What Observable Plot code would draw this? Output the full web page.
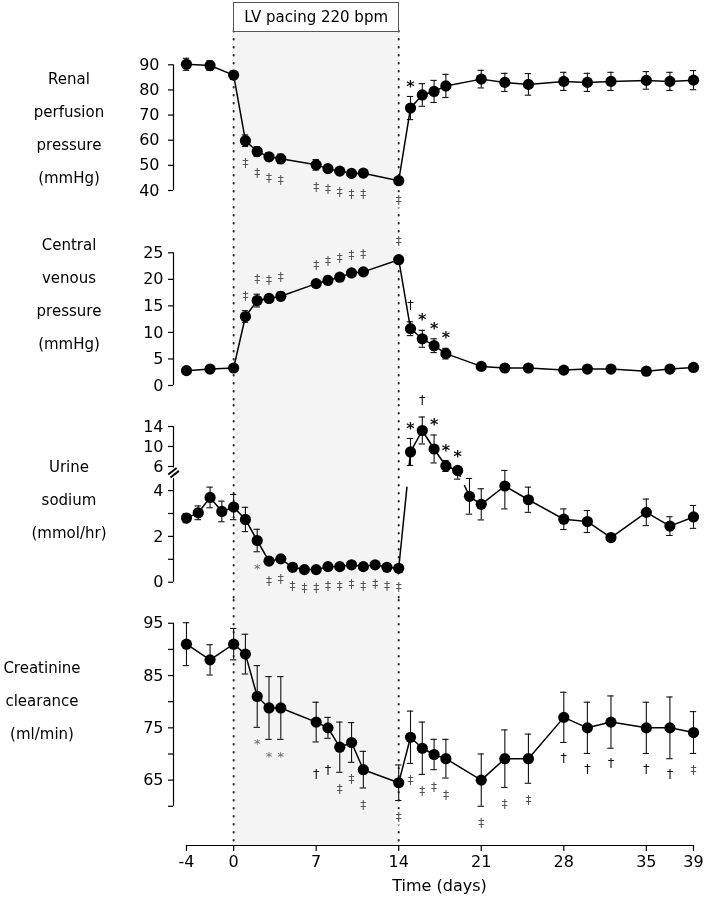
<!DOCTYPE html>
<html>
<head>
<meta charset="utf-8">
<script src="https://cdn.jsdelivr.net/npm/d3@7"></script>
<script src="https://cdn.jsdelivr.net/npm/@observablehq/plot@0.6"></script>
<style>
  html, body { margin: 0; padding: 0; background: #fff; }
  #chart { position: relative; width: 709px; height: 908px; overflow: hidden; font-family: "DejaVu Sans", sans-serif; color: #000; background: #fff; filter: grayscale(100%); }
  #chart svg { position: absolute; left: 0; }
  .ylab { position: absolute; width: 140px; text-align: center; font-size: 15px; line-height: 33px; white-space: nowrap; }
  .box { position: absolute; box-sizing: border-box; border: 1px solid #555; background: #fff; font-size: 15px; display: flex; align-items: center; justify-content: center; white-space: nowrap; }
  .xtitle { position: absolute; font-size: 16px; transform: translateX(-50%); white-space: nowrap; }
</style>
</head>
<body>
<div id="chart"></div>
<script>
// ---------------- data ----------------
const xTicks = [-4, 0, 7, 14, 21, 28, 35, 39];
const pacingDays = [0, 14];
const pacingLabel = "LV pacing 220 bpm";
const xTitle = "Time (days)";

// Renal perfusion pressure (mmHg)
const rppLabel = ["Renal", "perfusion", "pressure", "(mmHg)"];
const rppDays = [-4, -2, 0, 1, 2, 3, 4, 7, 8, 9, 10, 11, 14, 15, 16, 17, 18, 21, 23, 25, 28, 30, 32, 35, 37, 39];
const rppMean = [90.2, 89.7, 85.9, 59.8, 55.5, 53.4, 52.6, 50.2, 48.7, 47.7, 46.8, 46.9, 43.9, 72.8, 78.0, 79.4, 81.6, 84.3, 83.0, 82.2, 83.4, 83.0, 83.4, 83.8, 83.4, 83.9];
const rppErr = [2.4, 1.9, 1.7, 2.3, 1.9, 1.6, 1.9, 2.1, 1.5, 1.4, 1.4, 1.4, 1.0, 4.6, 4.5, 4.4, 4.6, 3.5, 3.6, 4.3, 3.6, 3.6, 3.6, 3.5, 3.6, 3.8];
const rppTicks = [40, 50, 60, 70, 80, 90];
const rppTickLabels = [40, 50, 60, 70, 80, 90];
const rppSig = [[1, "‡", "below"], [2, "‡", "below"], [3, "‡", "below"], [4, "‡", "below"], [7, "‡", "below"], [8, "‡", "below"], [9, "‡", "below"], [10, "‡", "below"], [11, "‡", "below"], [14, "‡", "below"], [15, "*", "above"]];

// Central venous pressure (mmHg)
const cvpLabel = ["Central", "venous", "pressure", "(mmHg)"];
const cvpDays = [-4, -2, 0, 1, 2, 3, 4, 7, 8, 9, 10, 11, 14, 15, 16, 17, 18, 21, 23, 25, 28, 30, 32, 35, 37, 39];
const cvpMean = [2.8, 3.1, 3.3, 13.0, 16.0, 16.4, 16.8, 19.2, 19.8, 20.4, 21.2, 21.4, 23.7, 10.7, 8.8, 7.5, 6.0, 3.6, 3.3, 3.3, 2.9, 3.1, 3.1, 2.7, 3.1, 3.4];
const cvpErr = [0.3, 0.3, 0.4, 1.1, 1.2, 0.6, 0.8, 0.6, 0.8, 0.7, 0.5, 0.5, 0.6, 1.3, 1.6, 1.3, 1.0, 0.4, 0.3, 0.3, 0.3, 0.3, 0.3, 0.3, 0.3, 0.3];
const cvpTicks = [0, 5, 10, 15, 20, 25];
const cvpTickLabels = [0, 5, 10, 15, 20, 25];
const cvpSig = [[1, "‡", "above"], [2, "‡", "above"], [3, "‡", "above"], [4, "‡", "above"], [7, "‡", "above"], [8, "‡", "above"], [9, "‡", "above"], [10, "‡", "above"], [11, "‡", "above"], [14, "‡", "above"], [15, "†", "above"], [16, "*", "above"], [17, "*", "above"], [18, "*", "above"]];

// Urine sodium (mmol/hr) - broken axis
const unaLabel = ["Urine", "sodium", "(mmol/hr)"];
const unaDays = [-4, -3, -2, -1, 0, 1, 2, 3, 4, 5, 6, 7, 8, 9, 10, 11, 12, 13, 14, 15, 16, 17, 18, 19, 20, 21, 23, 25, 28, 30, 32, 35, 37, 39];
const unaMean = [2.8, 3.03, 3.7, 3.09, 3.28, 2.74, 1.82, 0.92, 1.02, 0.65, 0.55, 0.55, 0.68, 0.68, 0.76, 0.68, 0.76, 0.65, 0.61, 8.9, 13.2, 9.5, 6.1, 5.2, 3.75, 3.4, 4.2, 3.6, 2.75, 2.65, 1.95, 3.05, 2.45, 2.85];
const unaErr = [0.2, 0.3, 0.45, 0.45, 0.55, 0.53, 0.49, 0.12, 0.15, 0.1, 0.08, 0.08, 0.1, 0.1, 0.1, 0.1, 0.1, 0.1, 0.1, 2.7, 2.7, 2.8, 1.1, 0.7, 0.78, 0.68, 1.0, 0.55, 0.45, 0.48, 0.12, 0.58, 0.41, 0.5];
const unaTicks = [0, 1, 2, 3, 4, 6, 10, 14];
const unaTickLabels = [0, 2, 4, 6, 10, 14];
const unaBreak = 4.79;
const unaSig = [[2, "*", "below"], [3, "‡", "below"], [4, "‡", "below"], [5, "‡", "below"], [6, "‡", "below"], [7, "‡", "below"], [8, "‡", "below"], [9, "‡", "below"], [10, "‡", "below"], [11, "‡", "below"], [12, "‡", "below"], [13, "‡", "below"], [14, "‡", "below"], [15, "*", "above"], [16, "†", "above"], [17, "*", "above"], [18, "*", "above"], [19, "*", "above"]];

// Creatinine clearance (ml/min)
const crcLabel = ["Creatinine", "clearance", "(ml/min)"];
const crcDays = [-4, -2, 0, 1, 2, 3, 4, 7, 8, 9, 10, 11, 14, 15, 16, 17, 18, 21, 23, 25, 28, 30, 32, 35, 37, 39];
const crcMean = [91, 88, 91, 89.1, 81, 78.8, 78.8, 76.1, 75, 71.3, 72.2, 67, 64.5, 73.2, 71.1, 69.9, 69.1, 65, 69.1, 69.1, 77, 75, 76.1, 75, 75, 74.1];
const crcErr = [4.1, 2.9, 3, 3.8, 5.9, 6, 6, 3.8, 2, 4.8, 3.8, 3.5, 3.4, 5, 5, 2.9, 3.7, 5, 5.5, 4.7, 4.8, 4.9, 5, 4.9, 5.9, 4];
const crcTicks = [60, 65, 70, 75, 80, 85, 90, 95];
const crcTickLabels = [65, 75, 85, 95];
const crcSig = [[2, "*", "below"], [3, "*", "below"], [4, "*", "below"], [7, "†", "below"], [8, "†", "below"], [9, "‡", "below"], [10, "‡", "below"], [11, "‡", "below"], [14, "‡", "below"], [15, "‡", "below"], [16, "‡", "below"], [17, "‡", "below"], [18, "‡", "below"], [21, "‡", "below"], [23, "‡", "below"], [25, "‡", "below"], [28, "†", "below"], [30, "†", "below"], [32, "†", "below"], [35, "†", "below"], [37, "†", "below"], [39, "‡", "below"]];

// ---------------- layout ----------------
const W = 709, ML = 173, MR = 16;
const xDomain = [-5.1, 39];
const FONT = "DejaVu Sans, sans-serif";
const chart = document.getElementById("chart");

const rows = (days, mean, err) => days.map((d, i) => ({ d, v: mean[i], e: err[i] }));

const backdrop = () => [
  Plot.rect([pacingDays], { x1: p => p[0], x2: p => p[1], fill: "#f4f4f4" }),
  Plot.ruleX(pacingDays, { stroke: "#222", strokeWidth: 2, strokeDasharray: "0.6,7.4", strokeLinecap: "round" })
];

const yAxis = (ticks, labels, pad, extent) => [
  Plot.ruleX([xDomain[0]], { y1: extent[0], y2: extent[1], stroke: "#000", strokeWidth: 1.2 }),
  Plot.axisY({ ticks, anchor: "left", tickSize: 5, tickPadding: pad, fontSize: 16, label: null,
    tickFormat: t => labels.includes(t) ? String(t) : "", stroke: "#000", strokeWidth: 1.2 })
];

const errMarks = data => [
  Plot.ruleX(data, { x: "d", y1: r => r.v - r.e, y2: r => r.v + r.e, stroke: "#111", strokeWidth: 1.1 }),
  Plot.ruleY(data, { y: r => r.v - r.e, x1: r => r.d - 0.27, x2: r => r.d + 0.27, stroke: "#111", strokeWidth: 1.1 }),
  Plot.ruleY(data, { y: r => r.v + r.e, x1: r => r.d - 0.27, x2: r => r.d + 0.27, stroke: "#111", strokeWidth: 1.1 })
];
const dotMarks = data => Plot.dot(data, { x: "d", y: "v", r: 5.6, fill: "#000", stroke: "none" });

const symStyle = {
  "‡": { fontSize: 12, fill: "#555", fontWeight: "normal", below: 17, above: -15 },
  "†": { fontSize: 13, fill: "#111", fontWeight: "normal", below: 15, above: -17, belowPacing: 32 },
  "*": { fontSize: 16, fill: "#111", fontWeight: "bold", below: 17, above: -10 }
};
function sigMarks(data, sig) {
  const byDay = new Map(data.map(r => [r.d, r]));
  return sig.map(([d, s, side]) => {
    const r = byDay.get(d);
    const st = symStyle[s];
    const inPacing = d < pacingDays[1];
    const item = { d, s, y: side === "above" ? r.v + r.e : r.v - r.e };
    const dy = (inPacing && side === "below" && st.belowPacing) ? st.belowPacing : st[side];
    return Plot.text([item], {
      x: "d", y: "y", text: "s",
      dy,
      fontSize: (s === "*" && inPacing) ? 13 : st.fontSize,
      fontWeight: (s === "*" && inPacing) ? "normal" : st.fontWeight,
      fill: (s === "*" && inPacing) ? "#666" : st.fill,
      stroke: d === pacingDays[1] ? "white" : "none",
      strokeWidth: 5
    });
  });
}

const common = (top, height) => ({
  width: W, height, marginLeft: ML, marginRight: MR, marginTop: 0, marginBottom: 0,
  x: { type: "linear", domain: xDomain, axis: null },
  style: { background: "transparent", overflow: "visible", fontFamily: FONT, color: "#000" }
});

function place(svg, top) {
  svg.style.position = "absolute";
  svg.style.top = top + "px";
  svg.style.left = "0px";
  chart.appendChild(svg);
  return svg;
}
function addLabel(lines, cx, firstY) {
  const div = document.createElement("div");
  div.className = "ylab";
  div.style.left = (cx - 70) + "px";
  div.style.top = (firstY - 16.5) + "px";
  div.innerHTML = lines.join("<br>");
  chart.appendChild(div);
}

// Panel 1: renal perfusion pressure
const rpp = rows(rppDays, rppMean, rppErr);
const p1Top = 0;
const p1 = Plot.plot({
  ...common(p1Top, 215), marginTop: 31,
  y: { type: "linear", domain: [40, 90], range: [190 - p1Top, 64.3 - p1Top], axis: null },
  marks: [
    ...backdrop(),
    ...yAxis(rppTicks, rppTickLabels, 9, d3.extent(rppTicks)),
    ...errMarks(rpp),
    Plot.line(rpp, { x: "d", y: "v", stroke: "#000", strokeWidth: 1.5 }),
    dotMarks(rpp),
    ...sigMarks(rpp, rppSig)
  ]
});
place(p1, p1Top);

// Panel 2: central venous pressure
const cvp = rows(cvpDays, cvpMean, cvpErr);
const p2Top = 215;
const p2 = Plot.plot({
  ...common(p2Top, 190),
  y: { type: "linear", domain: [0, 25], range: [385 - p2Top, 252.3 - p2Top], axis: null },
  marks: [
    ...backdrop(),
    ...yAxis(cvpTicks, cvpTickLabels, 5, d3.extent(cvpTicks)),
    ...errMarks(cvp),
    Plot.line(cvp, { x: "d", y: "v", stroke: "#000", strokeWidth: 1.5 }),
    dotMarks(cvp),
    ...sigMarks(cvp, cvpSig)
  ]
});
place(p2, p2Top);

// Panel 3: urine sodium (broken axis: piecewise linear scale)
const una = rows(unaDays, unaMean, unaErr);
const p3Top = 405;
const unaPairs = d3.pairs(una);
const crosses = ([a, b]) => (a.v > unaBreak) !== (b.v > unaBreak);
const linkOpts = { x1: p => p[0].d, y1: p => p[0].v, x2: p => p[1].d, y2: p => p[1].v, stroke: "#000", strokeWidth: 1.5 };
const crossPairs = unaPairs.filter(crosses);
const p3 = Plot.plot({
  ...common(p3Top, 195),
  y: { type: "linear", domain: [0, unaBreak, 14], range: [581.7 - p3Top, 472 - p3Top, 426 - p3Top], axis: null },
  marks: [
    ...backdrop(),
    Plot.ruleX([xDomain[0]], { y1: 0, y2: 14, stroke: "#000", strokeWidth: 1.2 }),
    Plot.axisY({ ticks: unaTicks, anchor: "left", tickSize: 5, tickPadding: 5, fontSize: 16, label: null,
      tickFormat: t => unaTickLabels.includes(t) ? String(t) : "", stroke: "#000", strokeWidth: 1.2 }),
    Plot.text([unaBreak], { x: xDomain[0], y: b => b, text: () => "=", rotate: -38, fontSize: 17, fontWeight: "bold", fill: "#000", stroke: "white", strokeWidth: 2.5 }),
    ...errMarks(una),
    Plot.link(unaPairs.filter(p => !crosses(p)), linkOpts),
    Plot.link([crossPairs[0]], { ...linkOpts, strokeDasharray: "82,21,300" }),
    Plot.link([crossPairs[1]], { ...linkOpts, strokeDasharray: "7,9,300" }),
    dotMarks(una),
    ...sigMarks(una, unaSig)
  ]
});
place(p3, p3Top);

// Panel 4: creatinine clearance + x axis
const crc = rows(crcDays, crcMean, crcErr);
const p4Top = 600;
const crcDomain = [52.5, 99.35];
const p4 = Plot.plot({
  ...common(p4Top, 308), marginBottom: 63,
  y: { type: "linear", domain: crcDomain, axis: null },
  marks: [
    ...backdrop(),
    ...yAxis(crcTicks, crcTickLabels, 5, d3.extent(crcTicks)),
    Plot.ruleY([crcDomain[0]], { x1: xTicks[0], x2: xTicks[xTicks.length - 1], stroke: "#000", strokeWidth: 1.2 }),
    Plot.axisX({ ticks: xTicks, anchor: "bottom", tickSize: 6, tickPadding: 4, fontSize: 16, label: null, tickFormat: t => String(t), stroke: "#000", strokeWidth: 1.2 }),
    ...errMarks(crc),
    Plot.line(crc, { x: "d", y: "v", stroke: "#000", strokeWidth: 1.5 }),
    dotMarks(crc),
    ...sigMarks(crc, crcSig)
  ]
});
place(p4, p4Top);

// Pacing box (positioned with the plot's x scale)
const xs = p1.scale("x");
const box = document.createElement("div");
box.className = "box";
box.style.left = xs.apply(pacingDays[0]) + "px";
box.style.width = (xs.apply(pacingDays[1]) - xs.apply(pacingDays[0]) + 1) + "px";
box.style.top = "2px";
box.style.height = "30px";
box.textContent = pacingLabel;
chart.appendChild(box);

// x title
const xt = document.createElement("div");
xt.className = "xtitle";
xt.style.left = ((xs.apply(xTicks[0]) + xs.apply(xTicks[xTicks.length - 1])) / 2) + "px";
xt.style.top = "876px";
xt.textContent = xTitle;
chart.appendChild(xt);

// panel labels
addLabel(rppLabel, 69, 79);
addLabel(cvpLabel, 69, 245);
addLabel(unaLabel, 69, 467);
addLabel(crcLabel, 42, 668);
</script>
</body>
</html>
